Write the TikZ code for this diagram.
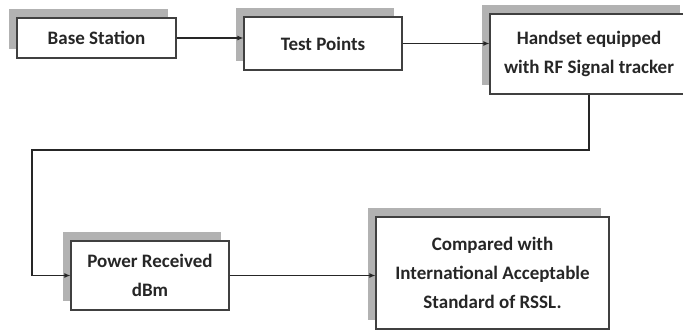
\documentclass[tikz,border=0pt]{standalone}
\usepackage{fontspec}
\setmainfont{Carlito}
\usetikzlibrary{shadows,arrows.meta}

\tikzset{
  blockbox/.style={draw=black!75, line width=1.1pt, fill=white, align=center,
    font=\fontsize{19}{29}\selectfont\bfseries, text=black!85, inner sep=0pt,
    general shadow={shadow xshift=-8pt, shadow yshift=9pt, fill=black!30, draw=none}},
  flowline/.style={draw=black!85, line width=1.5pt, -{Latex[length=6pt,width=5pt]}}
}

\begin{document}
\begin{tikzpicture}[x=1pt, y=-1pt]

				\useasboundingbox (0,0) rectangle (683,330);

				% upper row
				\node[blockbox, minimum width=159pt, minimum height=40pt] (base) at (96.5,38) {Base Station};
				\node[blockbox, minimum width=158pt, minimum height=53pt] (test) at (323,43.5) {Test Points};
				\node[blockbox, minimum width=198pt, minimum height=80pt] (hand) at (589,54) {Handset equipped\\with RF Signal tracker};

				% lower row
				\node[blockbox, minimum width=158pt, minimum height=69pt] (power) at (150,275.5) {Power Received\\dBm};
				\node[blockbox, minimum width=233pt, minimum height=112pt] (comp) at (492.5,273) {Compared with\\International Acceptable\\Standard of RSSL.};

				\coordinate (turn) at (32,150);

				\draw[flowline] (base.east) -- (base.east -| test.west);
				\draw[flowline] (test.east) -- (test.east -| hand.west);
				\draw[flowline] (hand.south) |- (turn) |- (power.west);
				\draw[flowline] (power.east) -- (power.east -| comp.west);

			\end{tikzpicture}
\end{document}
